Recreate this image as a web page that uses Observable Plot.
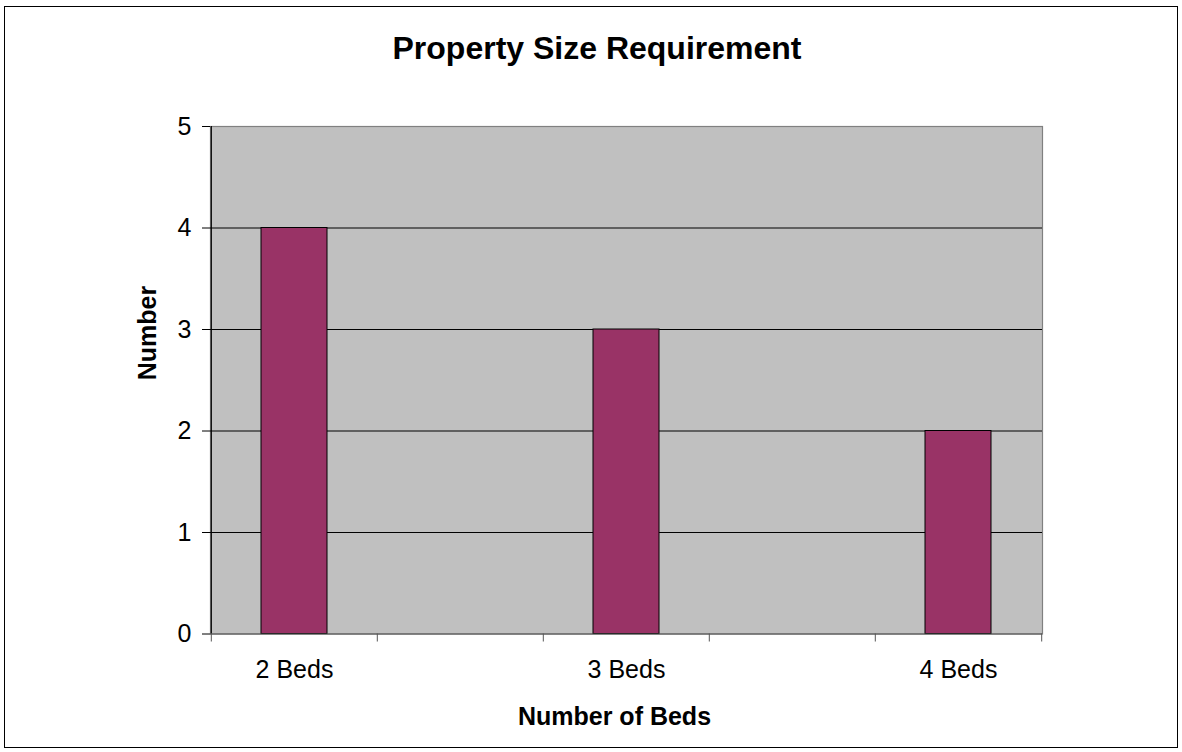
<!DOCTYPE html>
<html>
<head>
<meta charset="utf-8">
<script src="https://cdn.jsdelivr.net/npm/d3@7"></script>
<script src="https://cdn.jsdelivr.net/npm/@observablehq/plot@0.6"></script>
<style>
  html, body { margin: 0; padding: 0; background: #fff; overflow: hidden; }
  #wrap { position: relative; width: 1182px; height: 752px; }
  #wrap svg { display: block; }
  #border { position: absolute; left: 4px; top: 6px; width: 1172px; height: 740px; border: 1.5px solid #000; pointer-events: none; }
</style>
</head>
<body>
<div id="wrap"><div id="border"></div></div>
<script>
// Data
const title = "Property Size Requirement";
const xLabel = "Number of Beds";
const yLabel = "Number";
const categories = ["2 Beds", "3 Beds", "4 Beds"];
const values = [4, 3, 2];
// Excel layout slots: the chart has empty category slots between the bars
const slots = ["2 Beds", "gap1", "3 Beds", "gap2", "4 Beds"];
const yTicks = [0, 1, 2, 3, 4, 5];

const data = categories.map((c, i) => ({category: c, value: values[i]}));

const W = 1182, H = 752;
const mL = 210, mR = 140, mT = 126, mB = 118.5;
const step = (W - mL - mR) / slots.length;
const font = "'Liberation Sans', Arial, sans-serif";

const chart = Plot.plot({
  width: W,
  height: H,
  marginLeft: mL,
  marginRight: mR,
  marginTop: mT,
  marginBottom: mB,
  style: {fontFamily: font, fontSize: "25px", color: "#000", background: "transparent"},
  x: {domain: slots, paddingInner: 0.6, paddingOuter: 0.3, label: null},
  y: {domain: [0, 5], label: null},
  marks: [
    Plot.frame({fill: "#c0c0c0", stroke: "#808080", strokeWidth: 1.2}),
    Plot.ruleY(yTicks.filter(d => d > 0 && d < 5), {stroke: "#000", strokeWidth: 1}),
    Plot.barY(data, {x: "category", y: "value", fill: "#993366", stroke: "#000", strokeWidth: 1}),
    Plot.ruleY([0], {stroke: "#555", strokeWidth: 1.2}),
    Plot.ruleX([slots[0]], {dx: -step / 2, stroke: "#000", strokeWidth: 1.2}),
    // y axis
    Plot.axisY({ticks: yTicks, tickSize: 8, tickPadding: 11, tickFormat: d3.format("d"), fontSize: 25, stroke: "#000", label: null}),
    // x tick marks at category boundaries
    Plot.axisX({ticks: slots, tickSize: 8, tickFormat: () => "", dx: -step / 2, stroke: "#555", label: null}),
    Plot.axisX({ticks: [slots[slots.length - 1]], tickSize: 8, tickFormat: () => "", dx: step / 2, stroke: "#555", label: null}),
    // x tick labels
    Plot.axisX({ticks: categories, tickSize: 0, tickPadding: 26.5, fontSize: 25, label: null}),
    // titles
    Plot.text([title], {frameAnchor: "top", dy: -78, dx: -29.5, fontSize: 32, fontWeight: "bold", lineAnchor: "middle", fill: "#000"}),
    Plot.text([xLabel], {frameAnchor: "bottom", dy: 82.5, dx: -12, fontSize: 25, fontWeight: "bold", lineAnchor: "middle", fill: "#000"}),
    Plot.text([yLabel], {frameAnchor: "left", dx: -62.5, rotate: -90, fontSize: 25, fontWeight: "bold", lineAnchor: "middle", fill: "#000"})
  ]
});
document.getElementById("wrap").prepend(chart);
</script>
</body>
</html>
